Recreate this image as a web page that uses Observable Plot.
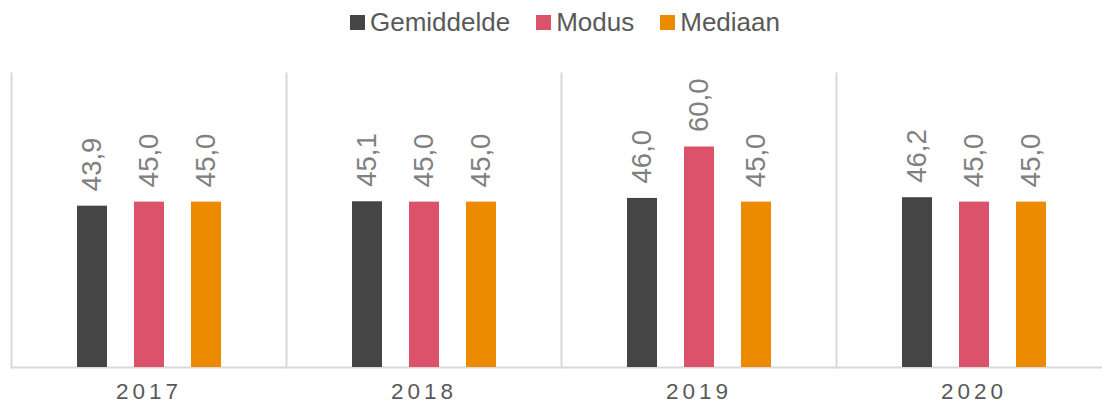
<!DOCTYPE html>
<html>
<head>
<meta charset="utf-8">
<script src="https://cdn.jsdelivr.net/npm/d3@7"></script>
<script src="https://cdn.jsdelivr.net/npm/@observablehq/plot@0.6"></script>
<style>
  body { margin: 0; background: #fff; font-family: "Liberation Sans", Arial, sans-serif; }
  #legend { height: 44px; display: flex; justify-content: center; align-items: center; padding-left: 28px; box-sizing: border-box; width: 1102px; }
  .item { display: flex; align-items: center; font-size: 26px; color: #595959; margin: 0 13px; }
  .sw { width: 15px; height: 15px; margin-right: 5px; }
</style>
</head>
<body>
<div id="legend"></div>
<div id="chart"></div>
<script>
const years = ["2017", "2018", "2019", "2020"];
const seriesNames = ["Gemiddelde", "Modus", "Mediaan"];
const colors = ["#454545", "#db526a", "#ec8a00"];
const gemiddelde = [43.9, 45.1, 46.0, 46.2];
const modus = [45.0, 45.0, 60.0, 45.0];
const mediaan = [45.0, 45.0, 45.0, 45.0];

const seriesValues = [gemiddelde, modus, mediaan];
const data = [];
years.forEach((y, i) => {
  seriesNames.forEach((s, j) => data.push({year: y, series: s, value: seriesValues[j][i]}));
});

const legend = document.getElementById("legend");
seriesNames.forEach((s, j) => {
  const it = document.createElement("div");
  it.className = "item";
  it.innerHTML = `<span class="sw" style="background:${colors[j]}"></span><span>${s}</span>`;
  legend.appendChild(it);
});

const fmt = v => v.toFixed(1).replace(".", ",");

const chart = Plot.plot({
  width: 1102,
  height: 364,
  marginLeft: 10,
  marginRight: -9,
  marginTop: 29,
  marginBottom: 41,
  style: { fontFamily: "'Liberation Sans', Arial, sans-serif", background: "#fff" },
  fx: { domain: years, padding: 0, axis: null },
  x: { domain: seriesNames, paddingInner: 0.474, paddingOuter: 1.12, axis: null },
  y: { domain: [0, 80], axis: null },
  color: { domain: seriesNames, range: colors },
  marks: [
    Plot.frame({ anchor: "left", stroke: "#d9d9d9", strokeWidth: 2 }),
    Plot.ruleY([0], { stroke: "#d9d9d9", strokeWidth: 2 }),
    Plot.barY(data, { fx: "year", x: "series", y: "value", fill: "series" }),
    Plot.text(data, {
      fx: "year", x: "series", y: "value", text: d => fmt(d.value),
      rotate: -90, textAnchor: "start", lineAnchor: "middle", dy: -15,
      fontSize: 27.5, fill: "#808080"
    }),
    Plot.text(years, {
      fx: d => d, text: d => d, frameAnchor: "bottom", dy: 31,
      fontSize: 22.5, fill: "#595959"
    })
  ]
});
document.getElementById("chart").appendChild(chart);
chart.querySelectorAll("text").forEach(t => {
  if (years.includes(t.textContent)) t.style.letterSpacing = "4px";
});
</script>
</body>
</html>
